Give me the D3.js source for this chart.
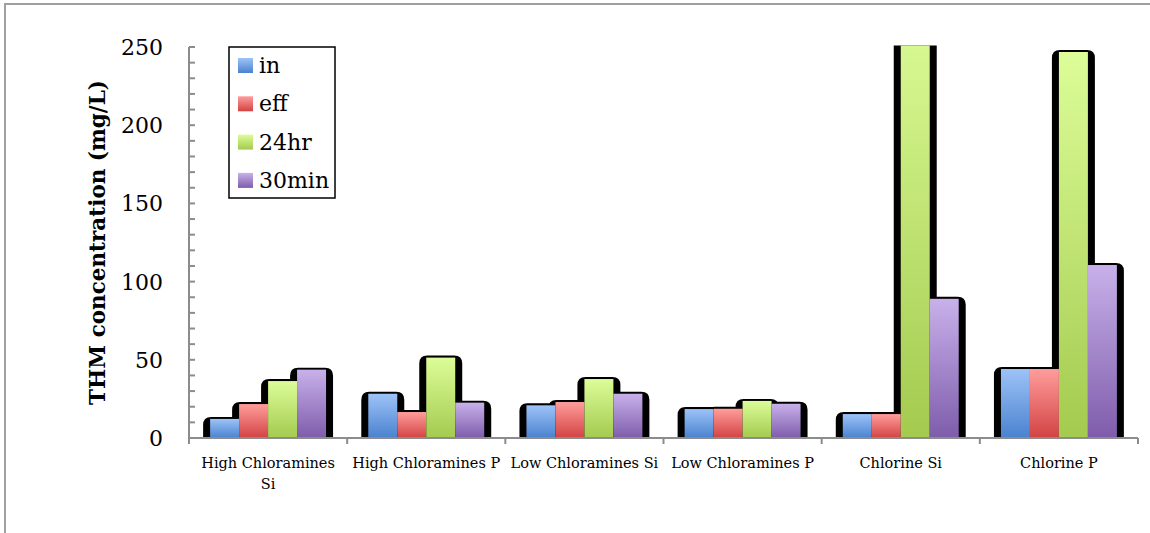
<!DOCTYPE html>
<html>
<head>
<meta charset="utf-8">
<script src="https://cdn.jsdelivr.net/npm/d3@7/dist/d3.min.js"></script>
<style>
  html, body { margin: 0; padding: 0; background: #fff; }
  svg { display: block; }
</style>
</head>
<body>
<svg id="chart" width="1150" height="533"></svg>
<script>
// Chart data
const categories = ["High Chloramines Si", "High Chloramines P", "Low Chloramines Si",
                    "Low Chloramines P", "Chlorine Si", "Chlorine P"];
const seriesNames = ["in", "eff", "24hr", "30min"];
const inValues    = [12.2, 28.3, 20.9, 18.5, 15.3, 44.1];
const effValues   = [21.7, 16.6, 23.0, 18.7, 15.3, 44.1];
const hr24Values  = [36.4, 51.4, 37.7, 23.7, 280, 246.8];
const min30Values = [43.7, 22.6, 28.3, 21.9, 89.0, 110.6];
const yTicks = [0, 50, 100, 150, 200, 250];
// Category labels broken into lines as they wrap under the axis
const categoryLines = [["High Chloramines", "Si"], ["High Chloramines P"], ["Low Chloramines Si"],
                       ["Low Chloramines P"], ["Chlorine Si"], ["Chlorine P"]];

const seriesValues = [inValues, effValues, hr24Values, min30Values];
const gradients = [
  ["#9dc3f8", "#4a82cf"],
  ["#ff9d9b", "#d24343"],
  ["#dcfd98", "#a4ca4f"],
  ["#c8b1ea", "#7e5cab"]
];

const svg = d3.select("#chart");
const serif = "'DejaVu Serif', serif";

// Outer chart frame
svg.append("rect")
  .attr("x", 5).attr("y", 4).attr("width", 1200).attr("height", 600)
  .attr("fill", "none").attr("stroke", "#a0a0a0").attr("stroke-width", 2);

const plot = { left: 189, right: 1138, top: 47, bottom: 438 };

const x = d3.scaleBand().domain(categories).range([plot.left, plot.right]).padding(0);
const bw = x.bandwidth();
const inner = d3.scaleBand().domain(seriesNames)
  .range([bw * 0.1335, bw * 0.8665]).padding(0);
const y = d3.scaleLinear().domain([0, 250]).range([plot.bottom, plot.top]);

const defs = svg.append("defs");
seriesNames.forEach((s, i) => {
  const g = defs.append("linearGradient").attr("id", "grad" + i)
    .attr("x1", 0).attr("y1", 0).attr("x2", 0).attr("y2", 1);
  g.append("stop").attr("offset", "0%").attr("stop-color", gradients[i][0]);
  g.append("stop").attr("offset", "100%").attr("stop-color", gradients[i][1]);
});
defs.append("clipPath").attr("id", "plotClip")
  .append("rect").attr("x", 0).attr("y", plot.top - 1.5)
  .attr("width", 1150).attr("height", plot.bottom - plot.top + 4);

// Flattened bar records
const bars = [];
categories.forEach((c, ci) => {
  seriesNames.forEach((s, si) => {
    bars.push({ cat: c, series: s, si: si, value: seriesValues[si][ci] });
  });
});

const barLayer = svg.append("g").attr("clip-path", "url(#plotClip)");

// Black backing shape behind each bar, rounded on top
function shadowPath(d) {
  const x0 = x(d.cat) + inner(d.series) - 7;
  const x1 = x(d.cat) + inner(d.series) + inner.bandwidth() + 7;
  const top = y(d.value) - 2;
  const bot = plot.bottom + 1;
  const r = Math.min(8, (bot - top) / 2);
  return `M${x0},${bot} L${x0},${top + r} Q${x0},${top} ${x0 + r},${top} ` +
         `L${x1 - r},${top} Q${x1},${top} ${x1},${top + r} L${x1},${bot} Z`;
}

barLayer.selectAll("path.shadow").data(bars).join("path")
  .attr("class", "shadow")
  .attr("d", shadowPath)
  .attr("fill", "#000");

barLayer.selectAll("rect.bar").data(bars).join("rect")
  .attr("class", "bar")
  .attr("x", d => x(d.cat) + inner(d.series))
  .attr("y", d => y(d.value))
  .attr("width", inner.bandwidth())
  .attr("height", d => plot.bottom - y(d.value))
  .attr("fill", d => `url(#grad${d.si})`);

// Y axis: line, minor ticks every 10 inside the plot, labels every 50
const axisColor = "#8c8c8c";
const yAxis = svg.append("g");
yAxis.append("line")
  .attr("x1", plot.left).attr("x2", plot.left)
  .attr("y1", plot.top).attr("y2", plot.bottom + 1)
  .attr("stroke", axisColor).attr("stroke-width", 2);
yAxis.selectAll("line.tick").data(d3.range(0, 251, 10)).join("line")
  .attr("class", "tick")
  .attr("x1", plot.left).attr("x2", plot.left + 6)
  .attr("y1", d => y(d)).attr("y2", d => y(d))
  .attr("stroke", axisColor).attr("stroke-width", 2);
yAxis.selectAll("text").data(yTicks).join("text")
  .attr("x", 163).attr("y", d => y(d))
  .attr("dy", "0.36em")
  .attr("text-anchor", "end")
  .attr("font-family", serif).attr("font-size", 22)
  .attr("fill", "#000")
  .text(d => d);

// X axis with boundary ticks
const xAxis = svg.append("g");
xAxis.append("line")
  .attr("x1", plot.left - 1).attr("x2", plot.right)
  .attr("y1", plot.bottom).attr("y2", plot.bottom)
  .attr("stroke", axisColor).attr("stroke-width", 2);
const boundaries = categories.map(c => x(c)).concat([plot.right]);
xAxis.selectAll("line.tick").data(boundaries).join("line")
  .attr("class", "tick")
  .attr("x1", d => d).attr("x2", d => d)
  .attr("y1", plot.bottom).attr("y2", plot.bottom + 6)
  .attr("stroke", axisColor).attr("stroke-width", 2);

xAxis.selectAll("text").data(categories).join("text")
  .attr("x", d => x(d) + bw / 2)
  .attr("y", 468)
  .attr("text-anchor", "middle")
  .attr("font-family", serif).attr("font-size", 14.5)
  .attr("fill", "#000")
  .each(function(d, i) {
    const t = d3.select(this);
    categoryLines[i].forEach((line, li) => {
      t.append("tspan").attr("x", x(d) + bw / 2).attr("dy", li === 0 ? 0 : 21).text(line);
    });
  });

// Y axis title
svg.append("text")
  .attr("transform", `translate(105, ${(plot.top + plot.bottom) / 2}) rotate(-90)`)
  .attr("text-anchor", "middle")
  .attr("font-family", serif).attr("font-weight", "bold").attr("font-size", 21.5)
  .attr("fill", "#000")
  .text("THM concentration (mg/L)");

// Legend
const legend = svg.append("g");
legend.append("rect")
  .attr("x", 229).attr("y", 47).attr("width", 106).attr("height", 151)
  .attr("fill", "#fff").attr("stroke", "#000").attr("stroke-width", 1.5);
const item = legend.selectAll("g.item").data(seriesNames).join("g")
  .attr("class", "item")
  .attr("transform", (d, i) => `translate(238, ${73 + i * 38.3})`);
item.append("rect")
  .attr("x", 0).attr("y", -15).attr("width", 15).attr("height", 15)
  .attr("fill", (d, i) => `url(#grad${i})`);
item.append("text")
  .attr("x", 21).attr("y", 0)
  .attr("font-family", serif).attr("font-size", 22)
  .attr("fill", "#000")
  .text(d => d);
</script>
</body>
</html>
